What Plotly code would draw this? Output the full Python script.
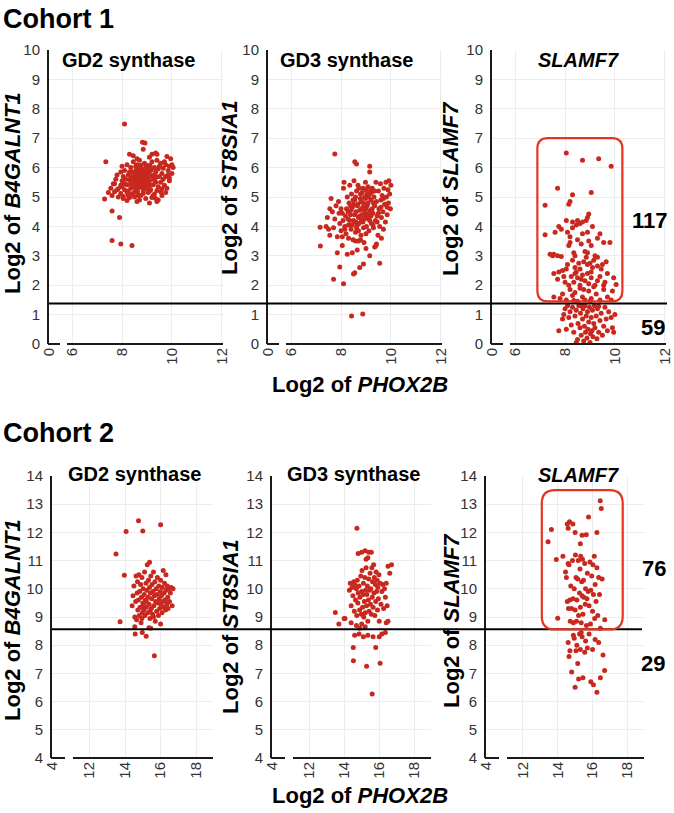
import plotly.graph_objects as go

# ---------------- data ----------------
c1_xtick_vals = [5.08, 6, 8, 10, 12]
c1_xtick_text = ["0", "6", "8", "10", "12"]
c2_xtick_vals = [9.9, 12, 14, 16, 18]
c2_xtick_text = ["4", "12", "14", "16", "18"]

c1_threshold = 1.38
c2_threshold = 8.57
c1_counts = ["117", "59"]
c2_counts = ["76", "29"]

# Cohort 1 - GD2 synthase (B4GALNT1)
c1_gd2_x = [8.10,8.82,8.92,8.85,7.35,8.30,9.35,9.40,9.80,9.95,
    8.60,9.10,8.20,8.45,8.70,9.20,9.55,10.05,9.90,9.75,
    8.00,8.35,8.55,8.75,8.95,9.05,9.30,9.45,9.65,8.10,
    8.40,8.62,8.80,8.98,9.15,9.35,9.60,9.85,10.00,7.80,
    8.05,8.25,8.50,8.70,8.88,9.02,9.20,9.40,9.75,7.75,
    8.00,8.30,8.55,8.72,8.85,8.95,9.10,9.30,9.55,9.90,
    7.65,7.95,8.20,8.45,8.62,8.78,8.92,9.05,9.25,9.45,
    9.70,7.55,7.85,8.10,8.35,8.55,8.70,8.90,9.15,9.40,
    9.60,7.45,7.70,7.95,8.20,8.40,8.62,8.85,9.05,9.30,
    9.55,7.60,7.85,8.05,8.30,8.50,8.75,8.95,9.20,9.45,
    8.20,8.60,9.10,9.40,8.75,8.85,8.92,8.80,8.68,8.98,
    9.08,8.65,8.58,9.00,8.90,9.12,8.50,8.40,9.25,9.18,
    8.78,8.82,9.35,8.35,8.25,8.65,9.70,9.50,8.15,7.95,
    8.45,9.85,10.00,9.65,9.80,9.25,8.00,7.70,8.55,9.00,
    7.30,7.60,7.90,7.60,7.95,8.40,8.72,8.62,9.05,8.95,
    8.48,9.15,8.88,8.70,9.30,8.35,8.10,9.50,9.60,9.75,
    8.85,8.30,9.40,8.60,9.20,8.95,8.80,9.00,8.52,8.25,
    9.10,7.80,8.05,9.35,8.70,9.90]
c1_gd2_y = [7.48,6.86,6.84,6.62,6.20,6.45,6.50,6.45,6.38,6.30,
    6.30,6.35,6.10,6.20,6.25,6.20,6.15,6.00,6.05,6.10,
    6.05,6.00,6.05,6.08,6.10,6.02,6.00,5.95,5.98,5.90,
    5.85,5.92,5.95,5.88,5.90,5.85,5.80,5.75,5.80,5.75,
    5.70,5.75,5.72,5.78,5.75,5.70,5.72,5.68,5.70,5.60,
    5.55,5.58,5.62,5.60,5.58,5.62,5.55,5.58,5.50,5.55,
    5.45,5.40,5.42,5.48,5.45,5.42,5.45,5.40,5.42,5.35,
    5.40,5.30,5.28,5.25,5.30,5.28,5.32,5.28,5.25,5.22,
    5.28,5.15,5.18,5.12,5.15,5.10,5.18,5.12,5.15,5.10,
    5.18,5.05,5.00,5.02,4.98,5.00,5.05,4.95,4.98,4.90,
    4.88,4.85,4.80,4.85,5.85,5.80,5.70,5.65,5.50,5.52,
    5.82,5.68,5.80,6.00,6.15,6.08,5.35,5.60,5.65,5.95,
    5.35,5.48,5.50,5.45,5.20,5.05,6.20,6.05,5.60,5.85,
    6.40,5.90,6.10,5.60,5.30,5.05,5.35,5.45,5.90,5.30,
    4.93,4.52,4.30,3.52,3.40,3.35,5.95,5.55,5.60,5.40,
    5.15,5.40,5.95,5.40,5.75,5.70,5.45,5.70,5.05,5.15,
    5.20,5.85,6.25,6.10,6.45,5.75,5.55,5.85,5.50,5.05,
    5.20,5.25,4.95,4.95,4.90,5.65]

# Cohort 1 - GD3 synthase (ST8SIA1)
c1_gd3_x = [7.75,8.55,8.62,9.15,9.15,7.17,7.16,7.70,8.10,8.50,8.55,8.75,8.90,9.55,7.95,8.42,8.87,
    7.85,8.25,8.45,8.65,9.00,9.15,9.35,9.40,7.55,8.05,
    7.40,7.45,7.50,7.55,7.60,7.65,7.70,7.75,7.80,7.85,7.90,7.95,8.00,8.05,8.10,8.12,8.15,8.20,8.22,8.25,
    8.28,8.30,8.32,8.35,8.38,8.40,8.42,8.45,8.48,8.50,8.52,8.55,8.58,8.60,8.62,8.65,8.68,8.70,8.72,8.75,
    8.78,8.80,8.82,8.85,8.88,8.90,8.92,8.95,8.98,9.00,9.02,9.05,9.08,9.10,9.12,9.15,9.18,9.20,9.22,9.25,
    9.28,9.30,9.32,9.35,9.38,9.40,9.42,9.45,9.48,9.50,9.52,9.55,9.58,9.60,9.62,9.65,9.68,9.70,9.72,9.75,
    9.78,9.80,9.82,9.85,9.88,9.90,9.92,9.95,9.98,10.00,
    8.70,8.75,8.80,8.85,8.88,8.92,8.95,8.98,9.00,9.05,9.08,9.10,9.12,9.15,9.18,8.65,8.60,8.55,8.50,8.45,
    8.40,8.35,8.62,8.72,8.82,8.90,9.20,9.25,9.30,9.35,8.58,8.68,8.78,8.88,8.98,9.05,9.22,8.48,8.38,8.28,
    8.18,8.08,8.00,7.92,8.15,8.30,8.70,9.00,9.28,9.45,9.50,9.60,9.70,9.85,
    8.78,8.58,9.62,9.42,8.05]
c1_gd3_y = [6.46,6.20,6.12,6.05,5.85,3.33,3.97,2.20,2.05,2.38,2.42,2.60,2.72,2.75,2.62,0.95,1.02,
    3.10,3.05,3.10,3.20,3.25,3.00,3.30,3.35,3.70,3.35,
    4.00,4.30,3.90,4.60,4.95,4.50,3.95,4.25,4.70,3.65,4.85,4.10,3.85,4.45,5.30,5.50,4.00,3.75,4.60,5.00,
    4.25,3.60,4.80,5.40,4.40,3.90,5.10,4.65,3.55,4.20,5.55,4.90,3.80,4.50,5.20,4.05,4.75,3.50,5.30,4.35,
    4.95,3.70,4.60,5.15,4.15,4.80,3.45,5.00,4.40,5.25,4.00,4.70,5.35,4.25,3.85,5.10,4.55,4.90,4.10,5.30,
    4.45,3.95,5.00,4.70,4.20,5.50,4.85,4.35,3.70,5.20,4.60,4.00,5.45,4.90,4.30,5.05,4.50,3.90,5.30,4.75,
    4.15,5.50,5.00,4.40,5.25,4.80,5.55,5.10,4.60,5.40,
    4.30,4.55,4.85,4.40,4.65,4.25,4.50,4.95,4.60,4.35,4.80,5.00,4.45,4.20,5.20,4.70,4.15,4.40,4.75,4.05,
    4.55,4.20,3.95,4.10,4.20,3.95,4.35,4.60,4.80,5.20,5.00,5.40,5.10,5.30,5.50,5.10,5.15,4.90,4.70,4.50,
    4.35,4.20,4.60,4.45,3.90,4.05,3.85,3.75,4.05,4.15,4.45,4.65,4.95,4.65,
    3.55,3.50,3.60,3.40,3.65]

# Cohort 1 - SLAMF7 (117 above threshold, 59 below)
c1_slam_x = [8.05,8.70,9.35,9.85,7.70,8.30,9.05,8.20,8.15,7.20,
    8.95,8.90,8.85,8.70,8.60,8.50,8.45,8.30,8.05,9.10,7.75,7.85,
    7.20,7.60,8.10,8.20,8.70,8.95,9.40,9.30,8.50,8.30,9.80,8.90,
    7.40,7.50,7.55,7.70,7.85,8.15,8.20,8.35,8.40,8.65,8.80,8.90,9.20,9.30,9.55,9.05,
    7.90,8.05,8.10,8.40,8.55,8.60,8.75,8.90,9.00,9.10,9.15,9.30,9.45,9.65,9.50,8.30,8.85,7.75,9.05,8.45,
    7.55,7.70,8.00,8.15,8.25,8.35,8.50,8.60,8.70,8.80,8.95,9.05,9.20,9.30,9.40,9.55,9.70,9.95,10.05,8.40,8.90,9.60,7.95,8.65,
    7.55,7.80,7.90,8.05,8.20,8.30,8.40,8.50,8.60,8.70,8.80,8.95,9.05,9.15,9.25,9.40,9.55,9.70,9.90,9.85,8.35,8.75,9.00,
    7.75,7.90,7.95,8.00,8.05,8.10,8.15,8.20,8.25,8.30,8.35,8.40,8.45,8.50,8.52,8.55,8.60,8.62,8.65,8.70,
    8.72,8.75,8.78,8.80,8.82,8.85,8.88,8.90,8.92,8.95,8.98,9.00,9.02,9.05,9.08,9.10,9.12,9.15,9.18,9.20,
    9.25,9.28,9.30,9.35,9.40,9.45,9.50,9.55,9.60,9.65,9.70,9.75,9.85,9.90,9.95,10.00,8.45,8.65,9.35]
c1_slam_y = [6.50,6.25,6.30,6.05,5.30,5.08,5.15,4.85,4.75,4.72,
    4.42,4.30,4.20,4.15,4.10,4.20,4.05,4.15,4.20,4.00,4.00,3.90,
    3.72,3.80,3.80,3.65,3.75,3.50,3.75,3.60,3.55,3.95,3.45,3.80,
    3.05,3.00,3.05,3.00,2.98,3.35,3.45,3.10,3.00,3.40,3.15,3.10,3.00,2.95,3.45,3.35,
    2.50,2.55,2.70,2.60,2.75,2.55,2.80,2.70,2.75,2.60,2.85,2.65,2.55,2.80,2.70,2.85,2.95,2.45,2.45,2.45,
    2.40,2.20,2.10,2.00,2.30,2.10,2.25,2.00,2.35,2.15,2.05,2.25,2.00,2.15,2.30,2.00,2.40,2.25,2.02,2.40,2.40,2.10,2.30,2.20,
    1.60,1.55,1.70,1.50,1.85,1.65,1.75,1.45,1.90,1.60,1.50,1.80,1.55,1.95,1.70,1.50,1.85,1.60,1.80,1.50,1.48,1.85,1.45,
    0.45,0.85,1.00,1.20,0.50,1.30,0.90,1.10,0.65,1.25,0.40,0.95,1.15,0.15,0.70,1.30,0.55,1.05,0.30,0.85,
    1.20,0.10,0.60,1.30,0.40,0.95,0.20,1.10,0.50,0.75,1.25,0.05,0.35,0.90,0.45,1.15,0.25,0.70,1.30,0.55,
    0.95,0.18,1.20,0.40,0.80,1.05,0.30,0.60,1.25,0.85,0.45,1.10,0.90,0.55,0.40,1.00,0.05,1.30,1.28]

# Cohort 2 - GD2 synthase (B4GALNT1)
c2_gd2_x = [14.76,16.00,14.06,15.00,13.49,13.96,15.38,13.72,14.57,14.97,15.19,15.45,15.35,15.65,14.55,16.00,
    14.40,14.45,14.50,14.55,14.60,14.62,14.65,14.68,14.70,14.72,14.75,14.78,14.80,14.82,14.85,14.88,14.90,14.92,14.95,14.98,
    15.00,15.02,15.05,15.08,15.10,15.12,15.15,15.18,15.20,15.22,15.25,15.28,15.30,15.32,15.35,15.38,15.40,15.42,15.45,15.48,
    15.50,15.52,15.55,15.58,15.60,15.62,15.65,15.68,15.70,15.72,15.75,15.78,15.80,15.82,15.85,15.88,15.90,15.92,15.95,15.98,
    16.00,16.02,16.05,16.08,16.10,16.12,16.15,16.18,16.20,16.22,16.25,16.28,16.30,16.32,16.35,16.38,16.40,16.42,16.45,16.50,
    16.55,16.60,16.65,16.70,15.20,15.40,15.60,15.05,14.95]
c2_gd2_y = [12.41,12.27,12.03,12.05,11.23,10.48,10.94,8.83,8.40,8.45,8.32,8.60,8.62,7.63,8.65,8.75,
    9.40,9.75,10.10,9.00,9.55,10.45,8.90,9.85,10.25,9.25,9.60,10.50,9.05,9.90,9.35,10.15,8.80,9.70,10.40,9.15,
    9.50,10.00,9.25,9.80,10.60,9.05,9.60,10.20,9.35,9.95,10.85,9.15,9.70,10.30,9.45,10.05,8.95,9.85,10.45,9.30,
    9.65,10.15,9.10,9.90,10.60,9.40,9.75,10.25,8.85,9.55,10.00,9.20,9.80,10.40,9.50,9.05,10.10,9.65,9.30,9.90,
    10.30,9.45,9.75,9.15,10.05,9.55,10.65,9.35,9.85,10.20,9.60,9.25,10.50,9.95,9.45,10.10,9.70,9.30,10.00,9.55,
    9.85,10.05,9.40,10.00,9.55,9.20,9.00,9.40,8.95]

# Cohort 2 - GD3 synthase (ST8SIA1)
c2_gd3_x = [14.73,15.60,13.50,13.70,14.00,14.05,14.52,14.53,15.28,16.05,15.80,14.60,14.85,15.10,15.35,15.65,16.00,16.15,16.35,16.50,14.40,14.90,
    15.00,15.20,15.40,15.55,15.35,14.80,15.25,
    14.30,14.35,14.40,14.45,14.50,14.55,14.58,14.60,14.65,14.70,14.72,14.75,14.78,14.80,14.85,14.88,14.90,14.95,14.98,15.00,
    15.02,15.05,15.08,15.10,15.12,15.15,15.18,15.20,15.22,15.25,15.28,15.30,15.32,15.35,15.38,15.40,15.42,15.45,15.48,15.50,
    15.52,15.55,15.58,15.60,15.62,15.65,15.68,15.70,15.72,15.75,15.78,15.80,15.82,15.85,15.88,15.90,15.92,15.95,15.98,16.00,
    16.05,16.10,16.15,16.20,16.25,16.30,16.35,16.40,16.45,16.50,16.60,16.70,16.40,15.20,15.00,14.70]
c2_gd3_y = [12.15,6.27,9.16,8.75,8.95,8.95,7.92,7.45,7.25,7.36,7.92,8.35,8.40,8.30,8.35,8.30,8.30,8.40,8.45,8.85,8.80,8.60,
    11.30,11.35,11.30,11.30,11.10,11.25,11.05,
    9.95,10.20,9.40,10.05,9.75,10.25,9.20,10.15,9.60,10.00,9.05,10.30,9.50,9.85,10.10,9.25,9.70,10.45,9.10,9.90,
    10.65,9.35,9.80,10.20,9.00,9.55,10.40,9.15,9.95,10.75,9.40,9.80,10.10,8.85,9.60,10.35,9.20,9.95,10.55,9.45,
    10.00,9.10,10.75,9.70,10.25,9.35,10.85,9.85,10.40,9.05,10.15,9.55,10.60,9.90,10.30,9.25,10.05,9.65,10.50,8.85,
    10.20,9.45,9.90,10.15,9.30,10.00,9.70,10.20,9.40,10.80,10.55,10.85,8.80,8.65,8.75,8.70]

# Cohort 2 - SLAMF7 (76 above threshold, 29 below)
c2_slam_x = [16.44,16.50,15.77,13.45,13.64,14.55,14.68,14.87,14.60,16.25,15.64,15.30,15.40,15.00,13.92,14.00,14.30,
    14.45,14.50,14.55,14.60,14.62,14.65,14.70,14.72,14.75,14.80,14.85,14.88,14.90,14.95,15.00,15.02,15.05,15.08,15.10,15.15,
    15.18,15.20,15.25,15.28,15.30,15.32,15.35,15.38,15.40,15.42,15.45,15.48,15.50,15.55,15.58,15.60,15.65,15.68,15.70,15.75,
    15.80,15.85,15.88,15.90,15.95,16.00,16.02,16.05,16.10,16.12,16.15,16.20,16.25,16.30,16.35,16.40,16.45,16.55,16.70,
    14.60,14.65,14.70,14.80,14.95,15.00,15.05,15.10,15.15,15.20,15.25,15.30,15.40,15.45,15.55,15.60,15.70,15.80,15.90,16.00,
    16.05,16.15,16.25,16.35,16.45,16.60,16.69,15.35,14.90]
c2_slam_y = [13.12,12.85,12.55,11.67,12.10,12.30,12.38,12.30,12.15,12.00,11.92,11.60,11.90,12.00,11.04,8.96,11.15,
    10.60,10.40,9.55,10.90,9.30,10.85,9.60,8.85,10.10,9.30,11.00,9.65,8.80,10.00,9.25,11.20,10.40,8.85,9.60,10.35,
    11.00,9.05,9.85,10.70,9.35,11.15,8.80,10.25,9.75,11.05,9.10,10.30,9.70,10.90,9.45,10.00,8.70,9.65,10.55,9.90,
    9.40,10.95,8.75,9.95,10.45,9.20,10.85,9.80,11.15,8.95,10.15,9.55,10.75,9.05,10.40,9.80,8.60,10.35,8.90,
    8.10,7.60,7.80,7.05,8.25,6.51,7.80,8.00,7.35,6.80,8.40,7.85,8.30,6.85,7.75,8.15,7.90,8.40,6.70,7.85,
    6.60,8.20,6.33,8.10,6.85,7.65,7.10,8.45,8.35]

# ---------------- layout helpers ----------------
W, H = 674, 813
def fx(p):
    return p / W
def fy(p):
    return 1 - p / H

RED = "#c8281e"
BOX = "#e8341f"
FONT = "Liberation Sans, Arial, Helvetica, sans-serif"
AX = "#1a1a1a"

rows = {
    1: dict(ypix=(50, 344), yr=[0, 10], xr=[5.07, 12.05], tv=c1_xtick_vals, tt=c1_xtick_text, brk=(11, 18)),
    2: dict(ypix=(476, 758), yr=[4, 14], xr=[9.89, 18.95], tv=c2_xtick_vals, tt=c2_xtick_text, brk=(13, 21)),
}
panels = [
    dict(x=c1_gd2_x, y=c1_gd2_y, row=1, xpix=(49, 223)),
    dict(x=c1_gd3_x, y=c1_gd3_y, row=1, xpix=(268, 442)),
    dict(x=c1_slam_x, y=c1_slam_y, row=1, xpix=(492, 666)),
    dict(x=c2_gd2_x, y=c2_gd2_y, row=2, xpix=(52, 213)),
    dict(x=c2_gd3_x, y=c2_gd3_y, row=2, xpix=(272, 431)),
    dict(x=c2_slam_x, y=c2_slam_y, row=2, xpix=(486, 644)),
]

fig = go.Figure()
layout = dict(width=W, height=H, margin=dict(l=0, r=0, t=0, b=0, autoexpand=False),
              paper_bgcolor="white", plot_bgcolor="white", showlegend=False,
              font=dict(family=FONT, color="black"))
shapes = []

for i, p in enumerate(panels, start=1):
    r = rows[p["row"]]
    sx = "" if i == 1 else str(i)
    fig.add_trace(go.Scatter(x=p["x"], y=p["y"], mode="markers", xaxis="x" + sx, yaxis="y" + sx,
                             marker=dict(color=RED, size=5, line=dict(width=0)), hoverinfo="skip"))
    layout["xaxis" + sx] = dict(domain=[fx(p["xpix"][0]), fx(p["xpix"][1])], range=r["xr"], anchor="y" + sx,
                                tickmode="array", tickvals=r["tv"], ticktext=r["tt"], tickangle=-90,
                                showline=False, zeroline=False, ticks="", showgrid=True,
                                gridcolor="#ededed", gridwidth=1,
                                tickfont=dict(size=15, color="#333333", family=FONT))
    layout["yaxis" + sx] = dict(domain=[fy(r["ypix"][1]), fy(r["ypix"][0])], range=r["yr"], anchor="x" + sx,
                                tickmode="linear", dtick=1, showline=True, linecolor=AX, linewidth=2,
                                zeroline=False, ticks="", showgrid=True, gridcolor="#ededed", gridwidth=1,
                                ticklabelstandoff=4,
                                tickfont=dict(size=15, color="#333333", family=FONT))
    # broken bottom axis
    x0, x1 = p["xpix"]
    yb = fy(r["ypix"][1])
    b1, b2 = r["brk"]
    shapes.append(dict(type="line", xref="paper", yref="paper", x0=fx(x0 - 1), x1=fx(x0 + b1), y0=yb, y1=yb,
                       line=dict(color=AX, width=2)))
    shapes.append(dict(type="line", xref="paper", yref="paper", x0=fx(x0 + b2), x1=fx(x1), y0=yb, y1=yb,
                       line=dict(color=AX, width=2)))

# threshold lines
shapes.append(dict(type="line", xref="paper", yref="y", x0=fx(49), x1=fx(667), y0=c1_threshold, y1=c1_threshold,
                   line=dict(color="black", width=2)))
shapes.append(dict(type="line", xref="paper", yref="y4", x0=fx(52), x1=fx(642), y0=c2_threshold, y1=c2_threshold,
                   line=dict(color="black", width=2)))

def rrect(x0, x1, y0, y1, rx, ry):
    return (f"M {x0+rx},{y0} L {x1-rx},{y0} Q {x1},{y0} {x1},{y0+ry} L {x1},{y1-ry} "
            f"Q {x1},{y1} {x1-rx},{y1} L {x0+rx},{y1} Q {x0},{y1} {x0},{y1-ry} "
            f"L {x0},{y0+ry} Q {x0},{y0} {x0+rx},{y0} Z")

shapes.append(dict(type="path", xref="x3", yref="y3", path=rrect(6.89, 10.30, 1.45, 7.0, 0.42, 0.36),
                   line=dict(color=BOX, width=2.2)))
shapes.append(dict(type="path", xref="x6", yref="y6", path=rrect(13.09, 17.73, 8.56, 13.5, 0.75, 0.47),
                   line=dict(color=BOX, width=2.2)))
layout["shapes"] = shapes

ann = []
def txt(t, x, y, size, xanchor="center", angle=0):
    ann.append(dict(text=t, x=fx(x), y=fy(y), xref="paper", yref="paper", showarrow=False,
                    xanchor=xanchor, yanchor="middle", textangle=angle,
                    font=dict(size=size, color="black", family=FONT)))

txt("<b>Cohort 1</b>", 1, 19, 27, xanchor="left")
txt("<b>Cohort 2</b>", 1, 433, 27, xanchor="left")

txt("<b>GD2 synthase</b>", 128, 60, 20)
txt("<b>GD3 synthase</b>", 347, 60, 20)
txt("<b><i>SLAMF7</i></b>", 578, 60, 20)
txt("<b>GD2 synthase</b>", 134, 474, 20)
txt("<b>GD3 synthase</b>", 353, 474, 20)
txt("<b><i>SLAMF7</i></b>", 578, 475, 20)

txt("<b>Log2 of <i>B4GALNT1</i></b>", 12, 193, 22, angle=-90)
txt("<b>Log2 of <i>ST8SIA1</i></b>", 230, 188, 22, angle=-90)
txt("<b>Log2 of <i>SLAMF7</i></b>", 451, 188, 22, angle=-90)
txt("<b>Log2 of <i>B4GALNT1</i></b>", 12, 620, 22, angle=-90)
txt("<b>Log2 of <i>ST8SIA1</i></b>", 230, 627, 22, angle=-90)
txt("<b>Log2 of <i>SLAMF7</i></b>", 451, 620, 22, angle=-90)

txt("<b>Log2 of <i>PHOX2B</i></b>", 360, 384, 22)
txt("<b>Log2 of <i>PHOX2B</i></b>", 360, 795, 22)

txt("<b>" + c1_counts[0] + "</b>", 670, 220, 22, xanchor="right")
txt("<b>" + c1_counts[1] + "</b>", 667, 327, 22, xanchor="right")
txt("<b>" + c2_counts[0] + "</b>", 668, 568, 22, xanchor="right")
txt("<b>" + c2_counts[1] + "</b>", 667, 663, 22, xanchor="right")

layout["annotations"] = ann
fig.update_layout(**layout)
fig.write_html("out.html", config={"displayModeBar": False},
               post_script="document.body.style.margin='0px';document.body.style.overflow='hidden';")
